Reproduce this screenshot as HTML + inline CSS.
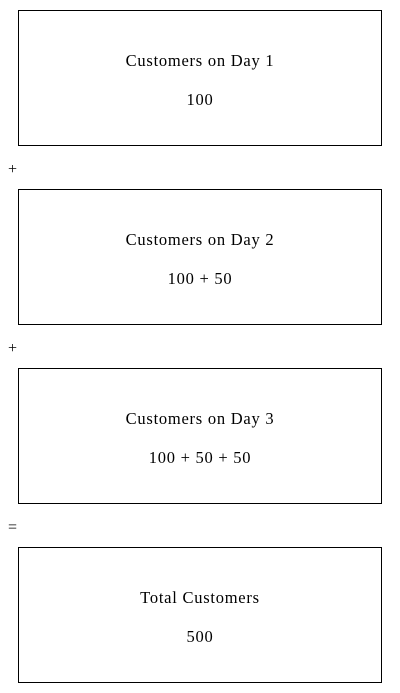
<!DOCTYPE html>
<html>
<head>
<meta charset="utf-8">
<style>
  html, body { margin: 0; padding: 0; background: #fff; }
  body { width: 400px; height: 693px; position: relative; overflow: hidden;
         font-family: "Liberation Serif", "DejaVu Serif", serif; color: #000; }
  .box { position: absolute; left: 18px; width: 362px; height: 134px;
         border: 1px solid #000; }
  .t { position: absolute; left: 0; right: 0; text-align: center; font-size: 16.5px; line-height: 18px; letter-spacing: 0.75px; }
  .t1 { top: 41px; }
  .t2 { top: 80px; }
  .op { position: absolute; left: 8px; font-size: 16px; line-height: 18px; }
</style>
</head>
<body>
  <div class="box" style="top:10px">
    <div class="t t1">Customers on Day 1</div>
    <div class="t t2">100</div>
  </div>
  <div class="op" style="top:161px">+</div>
  <div class="box" style="top:189px">
    <div class="t t1">Customers on Day 2</div>
    <div class="t t2">100 + 50</div>
  </div>
  <div class="op" style="top:340px">+</div>
  <div class="box" style="top:368px">
    <div class="t t1">Customers on Day 3</div>
    <div class="t t2">100 + 50 + 50</div>
  </div>
  <div class="op" style="top:519px">=</div>
  <div class="box" style="top:547px">
    <div class="t t1">Total Customers</div>
    <div class="t t2">500</div>
  </div>
</body>
</html>
